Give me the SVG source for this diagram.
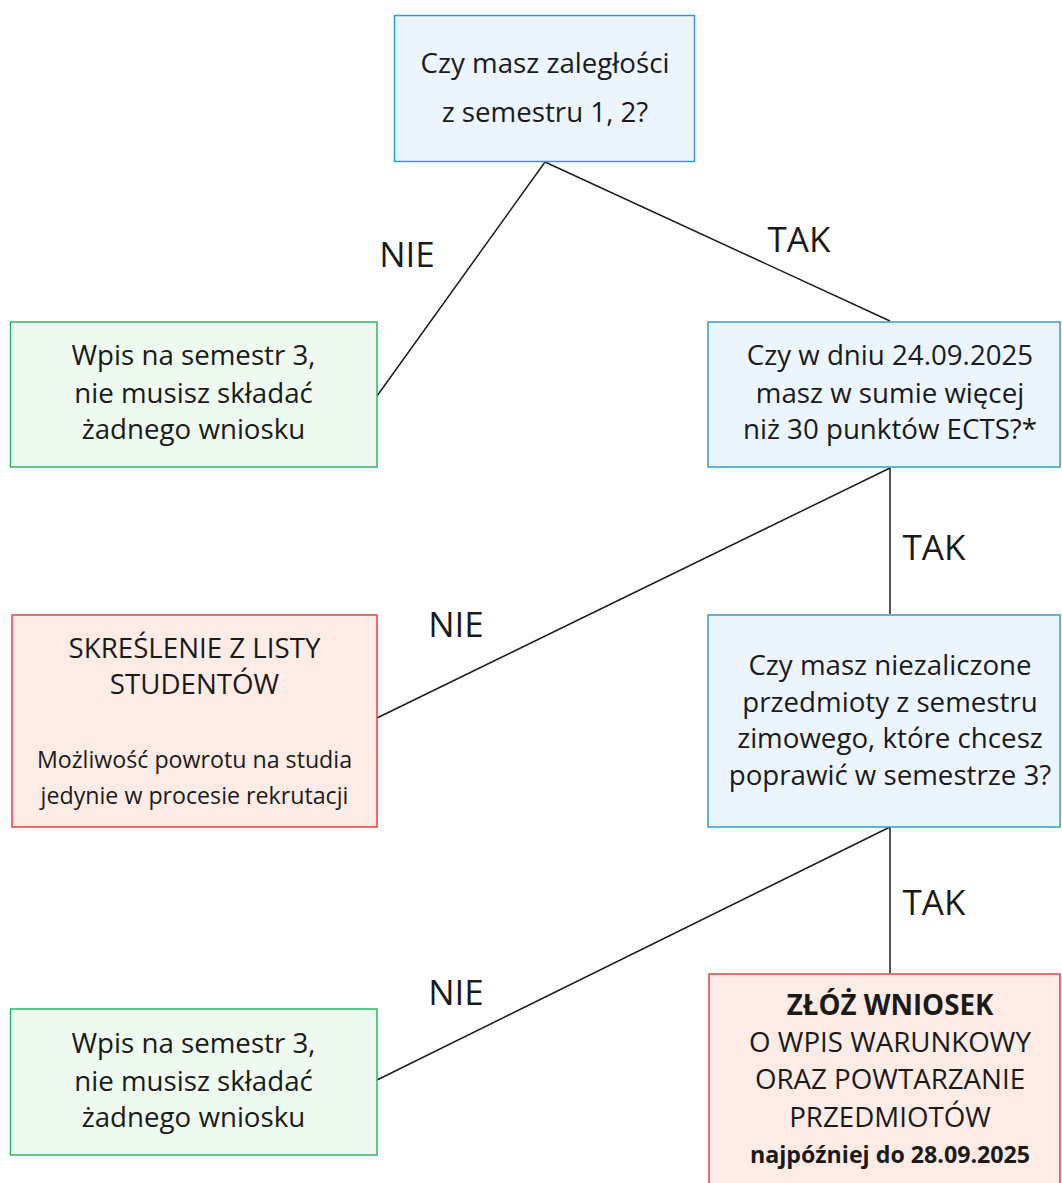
<svg xmlns="http://www.w3.org/2000/svg" width="1062" height="1183" viewBox="0 0 1062 1183">
<style>
.blue{fill:#ECF5FD;stroke:#2A9FD6;stroke-width:1.5}
.green{fill:#EEF9EF;stroke:#2DB56A;stroke-width:1.5}
.red{fill:#FDECE5;stroke:#E8423A;stroke-width:1.5}
text{font-family:"Open Sans","Liberation Sans",sans-serif;fill:#1a1a1a;text-anchor:middle}
.t{font-size:27.7px}
.s{font-size:23.2px}
.b{font-weight:bold}
.lbl{font-size:35px}
.c line{stroke:#1a1a1a;stroke-width:1.5}
</style>
<rect width="1062" height="1183" fill="#ffffff"/>
<g class="c" id="connectors">
<line x1="545" y1="162" x2="377" y2="396"/>
<line x1="545" y1="162" x2="890" y2="321"/>
<line x1="890" y1="468" x2="377" y2="718"/>
<line x1="890" y1="468" x2="890" y2="614"/>
<line x1="890" y1="827" x2="377" y2="1080"/>
<line x1="890" y1="827" x2="890" y2="973"/>
<text class="lbl" x="407" y="267">NIE</text>
<text class="lbl" x="799" y="252">TAK</text>
<text class="lbl" x="456" y="637">NIE</text>
<text class="lbl" x="934" y="560">TAK</text>
<text class="lbl" x="456" y="1005">NIE</text>
<text class="lbl" x="934" y="915">TAK</text>
</g>
<g id="q1">
<rect class="blue" x="394.5" y="15.5" width="300" height="146"/>
<text class="t" x="545" y="73">Czy masz zaległości</text>
<text class="t" x="545" y="122">z semestru 1, 2?</text>
</g>
<g id="ok1">
<rect class="green" x="10.5" y="322" width="366.5" height="145"/>
<text class="t" x="193.5" y="365">Wpis na semestr 3,</text>
<text class="t" x="193.5" y="403">nie musisz składać</text>
<text class="t" x="193.5" y="439">żadnego wniosku</text>
</g>
<g id="q2">
<rect class="blue" x="708" y="322" width="352" height="145"/>
<text class="t" x="890" y="365">Czy w dniu 24.09.2025</text>
<text class="t" x="890" y="403">masz w sumie więcej</text>
<text class="t" x="890" y="439">niż 30 punktów ECTS?*</text>
</g>
<g id="del">
<rect class="red" x="12" y="615" width="365" height="212"/>
<text class="t" x="194.5" y="658">SKREŚLENIE Z LISTY</text>
<text class="t" x="194.5" y="694">STUDENTÓW</text>
<text class="s" x="194.5" y="768">Możliwość powrotu na studia</text>
<text class="s" x="194.5" y="804">jedynie w procesie rekrutacji</text>
</g>
<g id="q3">
<rect class="blue" x="708" y="615" width="352" height="212"/>
<text class="t" x="890" y="675">Czy masz niezaliczone</text>
<text class="t" x="890" y="712">przedmioty z semestru</text>
<text class="t" x="890" y="748">zimowego, które chcesz</text>
<text class="t" x="890" y="785">poprawić w semestrze 3?</text>
</g>
<g id="apply">
<rect class="red" x="709" y="974" width="351" height="215"/>
<text class="t b" x="890" y="1015">ZŁÓŻ WNIOSEK</text>
<text class="t" x="890" y="1052">O WPIS WARUNKOWY</text>
<text class="t" x="890" y="1089">ORAZ POWTARZANIE</text>
<text class="t" x="890" y="1127">PRZEDMIOTÓW</text>
<text class="s b" x="890" y="1163">najpóźniej do 28.09.2025</text>
</g>
<g id="ok2">
<rect class="green" x="10.5" y="1009" width="366.5" height="146"/>
<text class="t" x="193.5" y="1053">Wpis na semestr 3,</text>
<text class="t" x="193.5" y="1091">nie musisz składać</text>
<text class="t" x="193.5" y="1127">żadnego wniosku</text>
</g>
</svg>
